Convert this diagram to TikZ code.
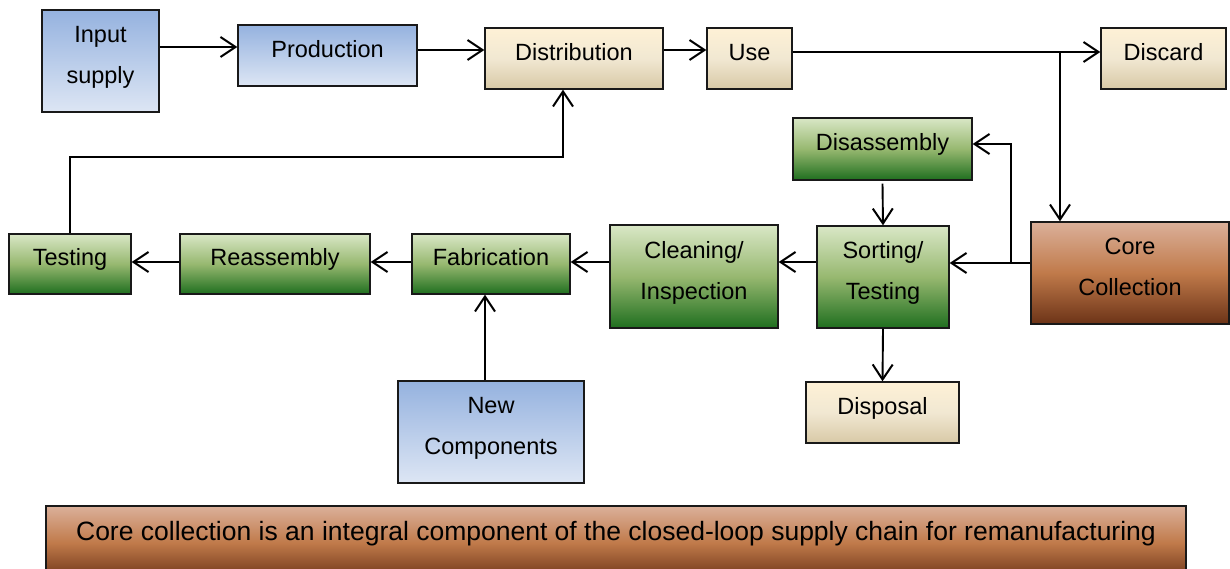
\documentclass[tikz,border=0pt]{standalone}
\usepackage{fontspec}
\setmainfont{Liberation Sans}
\usetikzlibrary{arrows.meta}
\definecolor{bluetop}{HTML}{95B2DF}
\definecolor{bluebot}{HTML}{DDE6F4}
\definecolor{beigetop}{HTML}{FEF1D6}
\definecolor{beigemid}{HTML}{F1E8D2}
\definecolor{beigebot}{HTML}{D8C9A6}
\definecolor{greentop}{HTML}{D9E7C6}
\definecolor{greenmid}{HTML}{97B870}
\definecolor{greenbot}{HTML}{1F6F1F}
\definecolor{browntop}{HTML}{DBB09A}
\definecolor{brownmid}{HTML}{C07A4A}
\definecolor{brownbot}{HTML}{6C3317}
\tikzset{
  box/.style={draw=black!90, line width=1.4pt, rectangle, inner sep=0pt,
    font=\fontsize{23.5}{41}\selectfont},
  one/.style={text height=3.8pt, text depth=0pt},
  two/.style={align=center, text height=45.8pt, text depth=0pt},
  bluebox/.style={box, top color=bluetop, bottom color=bluebot},
  beigebox/.style={box, top color=beigetop, bottom color=beigebot, middle color=beigemid},
  greenbox/.style={box, top color=greentop, bottom color=greenbot, middle color=greenmid},
  brownbox/.style={box, top color=browntop, bottom color=brownbot, middle color=brownmid},
  arr/.style={line width=1.9pt, -{Straight Barb[length=15pt,width=20pt,line width=2pt]}},
  ln/.style={line width=1.9pt}
}
\begin{document}
\begin{tikzpicture}[x=1pt,y=-1pt]
\useasboundingbox (0,0) rectangle (1230,569);
\begin{scope}
\clip (0,0) rectangle (1230,569);
% nodes
\node[bluebox, two, minimum width=117pt, minimum height=102pt] (input) at (100.5,61) {Input\\supply};
\node[bluebox, one, minimum width=179pt, minimum height=61pt] (prod) at (327.5,55.5) {Production};
\node[beigebox, one, minimum width=178pt, minimum height=61pt] (dist) at (574,58.5) {Distribution};
\node[beigebox, one, minimum width=85pt, minimum height=61pt] (use) at (749.5,58.5) {Use};
\node[beigebox, one, minimum width=125pt, minimum height=61pt] (discard) at (1163.5,58.5) {Discard};
\node[greenbox, one, minimum width=179pt, minimum height=62pt] (disasm) at (882.5,149) {Disassembly};
\node[greenbox, two, minimum width=132pt, minimum height=102pt] (sort) at (883,277) {Sorting/\\Testing};
\node[brownbox, two, minimum width=198pt, minimum height=102pt] (core) at (1130,273) {Core\\Collection};
\node[greenbox, two, minimum width=168pt, minimum height=103pt] (clean) at (694,276.5) {Cleaning/\\Inspection};
\node[beigebox, one, minimum width=153pt, minimum height=61pt] (disposal) at (882.5,412.5) {Disposal};
\node[greenbox, one, minimum width=122pt, minimum height=60pt] (testing) at (70,264) {Testing};
\node[greenbox, one, minimum width=190pt, minimum height=60pt] (reasm) at (275,264) {Reassembly};
\node[greenbox, one, minimum width=158pt, minimum height=60pt] (fab) at (491,264) {Fabrication};
\node[bluebox, two, minimum width=186pt, minimum height=102pt] (newc) at (491,432) {New\\Components};
\node[brownbox, minimum width=1140pt, minimum height=74pt, font=\fontsize{26.5}{30}\selectfont,
  text height=0pt, text depth=5pt] (note) at (616,543)
  {Core collection is an integral component of the closed-loop supply chain for remanufacturing};
\end{scope}
% junctions
\coordinate (j1) at (1060,52);
\coordinate (j2) at (1011,263);
\coordinate (j3) at (563,157);
% connectors
\draw[arr] ([yshift=14pt]input.east) -- ([yshift=8.5pt]prod.west);
\draw[arr] ([yshift=5.5pt]prod.east) -- ([yshift=8.5pt]dist.west);
\draw[arr] ([yshift=8.5pt]dist.east) -- ([yshift=8.5pt]use.west);
\draw[arr] ([yshift=6.5pt]use.east) -- ([yshift=6.5pt]discard.west);
\draw[arr] (j1) -- (j1 |- core.north);
\draw[arr] ([yshift=10pt]core.west) -- ([yshift=14pt]sort.east);
\draw[arr] (j2) |- ([yshift=5pt]disasm.east);
\draw[arr] ([yshift=-3pt]disasm.south) -- (sort.north);
\draw[arr] ([yshift=15pt]sort.west) -- ([yshift=14.5pt]clean.east);
\draw[arr] (sort.south) -- (disposal.north);
\draw[arr] ([yshift=14.5pt]clean.west) -- ([yshift=2pt]fab.east);
\draw[arr] ([yshift=2pt]fab.west) -- ([yshift=2pt]reasm.east);
\draw[arr] ([yshift=2pt]reasm.west) -- ([yshift=2pt]testing.east);
\draw[arr] ([xshift=-6pt]newc.north) -- ([xshift=-6pt]fab.south);
\draw[arr] (testing.north) |- (j3) -- ([xshift=-11pt]dist.south);
\end{tikzpicture}
\end{document}
